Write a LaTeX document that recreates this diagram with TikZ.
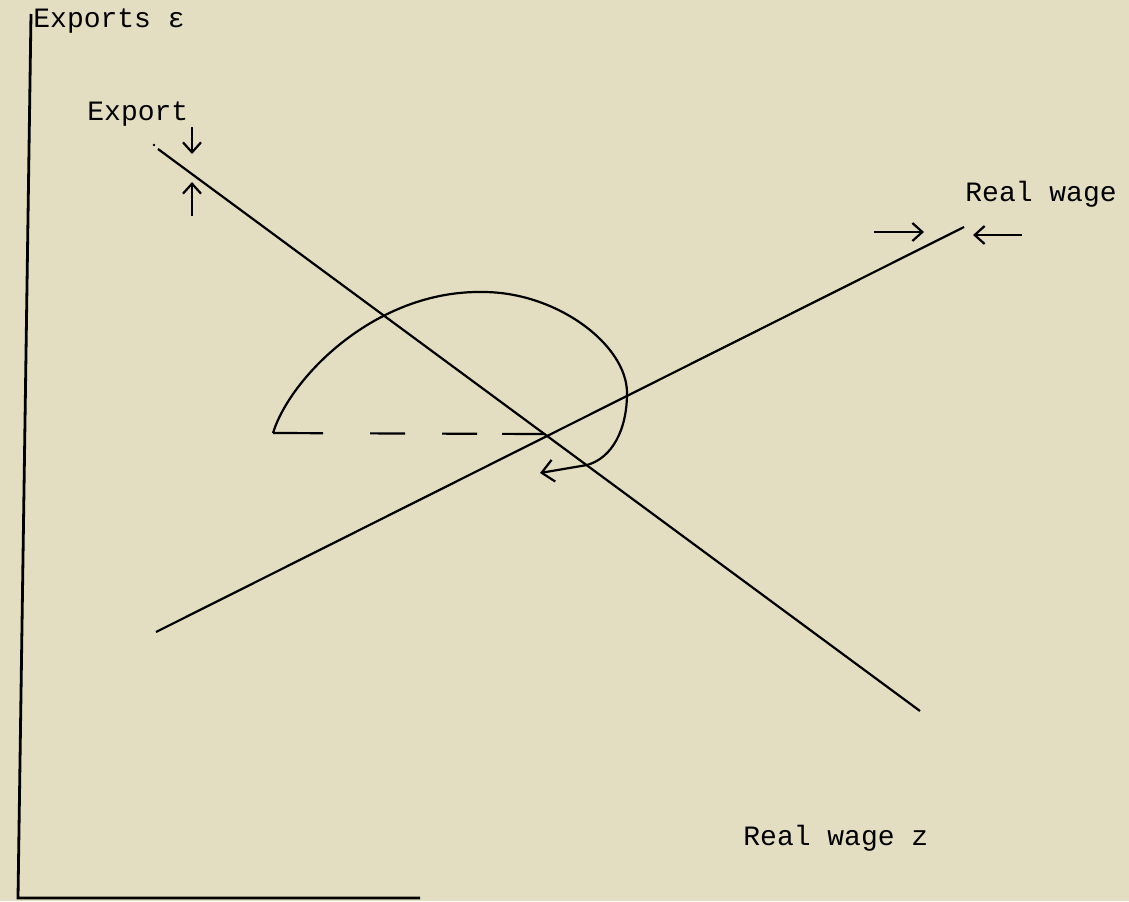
\documentclass[tikz,border=0pt]{standalone}
\usepackage{fontspec}
\setmonofont{Liberation Mono}
\usepackage{xcolor}
\usetikzlibrary{arrows.meta}

\definecolor{paper}{RGB}{227,222,194}

\begin{document}
\begin{tikzpicture}[x=0.5pt, y=-0.5pt,
  axisline/.style={line width=1.4pt},
  curveline/.style={line width=1.1pt},
  lbl/.style={font=\fontsize{14}{16}\selectfont\ttfamily, anchor=west, inner sep=0pt},
  shiftarr/.style={-{Straight Barb[length=5pt, width=9pt]}, line width=1.1pt},
]

% page
\fill[paper] (0,0) rectangle (1129,901);
\useasboundingbox (0,0) rectangle (1129,901);

% axes
\coordinate (top) at (31,14);
\coordinate (origin) at (18,898);
\coordinate (right) at (420,898);
\draw[axisline] (top) -- (origin) -- (right);
\node[lbl] (yname) at (33,21) {Exports ε};
\node[lbl] (xname) at (743,838) {Real wage z};

% export line
\coordinate (ex1) at (158,149);
\coordinate (ex2) at (920,711);
\draw[curveline] (ex1) -- (ex2);
\fill (154,145) circle (1.3);
\node[lbl] (exname) at (87,114) {Export};
\coordinate (ed1) at (192,127);
\coordinate (ed2) at (192,154);
\coordinate (eu1) at (192,216);
\coordinate (eu2) at (192,182);
\draw[shiftarr] (ed1) -- (ed2);
\draw[shiftarr] (eu1) -- (eu2);

% real wage line
\coordinate (rw1) at (156,632);
\coordinate (rw2) at (964,227);
\draw[curveline] (rw1) -- (rw2);
\node[lbl] (rwname) at (965,194) {Real wage};
\coordinate (rr1) at (874,232);
\coordinate (rr2) at (924,232);
\coordinate (rl1) at (1022,235);
\coordinate (rl2) at (973,235);
\draw[shiftarr] (rr1) -- (rr2);
\draw[shiftarr] (rl1) -- (rl2);

% adjustment path
\coordinate (start) at (273,433);
\coordinate (eq) at (545,434);
\coordinate (peak) at (483,292);
\coordinate (cross) at (627,393);
\coordinate (turn) at (587,465);
\coordinate (finish) at (540,473);
\draw[curveline, dash pattern=on 25pt off 23.5pt on 17.5pt off 18.5pt on 17.5pt off 12.5pt on 22pt] (start) -- (eq);
\draw[curveline, -{Straight Barb[length=6pt, width=11pt]}]
  (start) .. controls (290,378) and (375,290) .. (peak)
  .. controls (557,292) and (627,345) .. (cross)
  .. controls (627,430) and (612,458) .. (turn) -- (finish);

\end{tikzpicture}
\end{document}
